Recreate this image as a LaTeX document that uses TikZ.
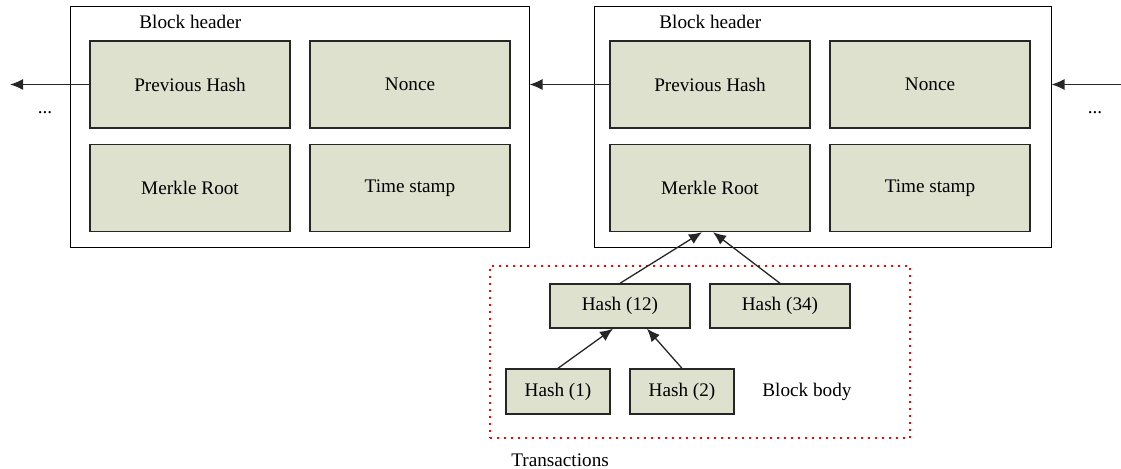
\documentclass[tikz,border=0pt]{standalone}
\usepackage{fontspec}
\setmainfont{Liberation Serif}
\usetikzlibrary{arrows.meta}
\definecolor{fieldfill}{RGB}{222,225,205}
\tikzset{
  field/.style={draw=black!85,line width=0.7pt,fill=fieldfill,inner sep=0pt,
    minimum width=100pt,minimum height=43.5pt},
  hashbox/.style={field,minimum width=70pt,minimum height=22pt},
  leafbox/.style={field,minimum width=52pt,minimum height=22.5pt},
  blockframe/.style={draw,line width=0.5pt,inner sep=0pt,minimum height=120.5pt},
  lbl/.style={anchor=west,inner sep=0pt},
  link/.style={line width=0.65pt,black!85,->},
}
\begin{document}
\begin{tikzpicture}[x=0.5pt,y=-0.5pt,>={Latex[length=6.5pt,width=5.5pt]},
    every node/.style={font=\fontsize{9.6}{11.5}\selectfont}]
  \useasboundingbox (0,0) rectangle (1121,469);
  % left block
  \node[blockframe,minimum width=229.5pt] (blkL) at (299.5,127.5) {};
  \node[lbl] (hdrL) at (139,22) {Block header};
  \node[field] (prevL) at (190,84.5) {Previous Hash};
  \node[field] (nonceL) at (410,84.5) {Nonce};
  \node[field] (merkleL) at (190,188) {Merkle Root};
  \node[field] (timeL) at (410,188) {Time stamp};
  % right block
  \node[blockframe,minimum width=228.5pt] (blkR) at (822.5,127.5) {};
  \node[lbl] (hdrR) at (659,22) {Block header};
  \node[field] (prevR) at (710,84.5) {Previous Hash};
  \node[field] (nonceR) at (930,84.5) {Nonce};
  \node[field] (merkleR) at (710,188) {Merkle Root};
  \node[field] (timeR) at (930,188) {Time stamp};
  % chain links
  \node (dotsL) at (45,113) {...};
  \node (dotsR) at (1095,113) {...};
  \coordinate (endL) at (10,84.5);
  \coordinate (startR) at (1121,84.5);
  \draw[link] (prevL.west) -- (endL);
  \draw[link] (prevR.west) -- (blkL.east |- prevR.west);
  \draw[link] (startR) -- (blkR.east |- startR);
  % block body
  \node[draw=red,line width=1pt,dash pattern=on 1pt off 2.5pt,inner sep=0pt,
    minimum width=210pt,minimum height=86pt] (body) at (700,352) {};
  \node[hashbox] (h12) at (620,306) {Hash (12)};
  \node[hashbox] (h34) at (780,306) {Hash (34)};
  \node[leafbox] (h1) at (558,391.5) {Hash (1)};
  \node[leafbox] (h2) at (682,391.5) {Hash (2)};
  \node[lbl] (bodylbl) at (762,392) {Block body};
  \node[lbl] (txlbl) at (511,460) {Transactions};
  \draw[link] (h12.north) -- ([xshift=-4pt]merkleR.south);
  \draw[link] (h34.north) -- ([xshift=1.5pt]merkleR.south);
  \draw[link] (h1.north) -- ([xshift=-3.5pt]h12.south);
  \draw[link] (h2.north) -- ([xshift=13.5pt]h12.south);
\end{tikzpicture}
\end{document}
